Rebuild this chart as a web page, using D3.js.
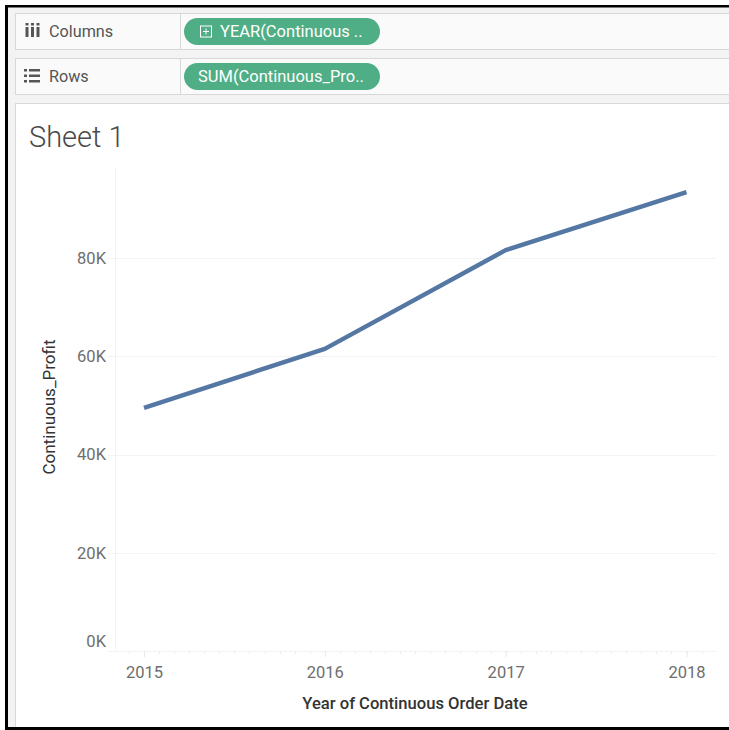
<!DOCTYPE html>
<html><head><meta charset="utf-8">
<script src="https://cdn.jsdelivr.net/npm/d3@7/dist/d3.min.js"></script>
<style>html,body{margin:0;padding:0;background:#fff}svg{display:block}text{font-family:Roboto,"Open Sans",sans-serif}</style>
</head><body><svg id="c" width="729" height="730"></svg>
<script>
const years=[2015,2016,2017,2018];
const profit=[49500,61500,81600,93400];
const yTicks=[0,20000,40000,60000,80000];
const shelves=["Columns","Rows"];
const pills=["YEAR(Continuous ..","SUM(Continuous_Pro.."];

const svg=d3.select("#c");
const x=d3.scaleLinear().domain([2015,2018]).range([144,686.5]);
const y=d3.scaleLinear().domain([0,80000]).range([651,258]);
const gridC="#f3f3f3", textC="#6e6e6e";

// window
svg.append("rect").attr("width",729).attr("height",730).attr("fill","#fff");
svg.append("rect").attr("x",8).attr("y",7).attr("width",721).attr("height",720).attr("fill","#f3f3f3");
// shelves
const tops=[13.5,58.5];
shelves.forEach((s,i)=>{
  const g=svg.append("g");
  g.append("rect").attr("x",15.5).attr("y",tops[i]).attr("width",720).attr("height",36).attr("fill","#fafafa").attr("stroke","#d8d8d8");
  g.append("line").attr("x1",180.5).attr("x2",180.5).attr("y1",tops[i]).attr("y2",tops[i]+36).attr("stroke","#d8d8d8");
  g.append("text").attr("x",49).attr("y",tops[i]+23.5).attr("font-size",16.2).attr("fill","#555").text(s);
  g.append("rect").attr("x",184).attr("y",tops[i]+4.5).attr("width",196).attr("height",27).attr("rx",13.5).attr("fill","#4fae85");
  g.append("text").attr("x",i?198:220).attr("y",tops[i]+23.5).attr("font-size",16.5).attr("fill","#fff").text(pills[i]);
});
// Columns icon
[0,1,2].forEach(k=>{
  svg.append("rect").attr("x",25.5+k*5.5).attr("y",27).attr("width",3).attr("height",10).attr("fill","#555");
  svg.append("rect").attr("x",25.5+k*5.5).attr("y",23).attr("width",3).attr("height",2.5).attr("fill","#555");
});
// Rows icon
[0,1,2].forEach(k=>{
  svg.append("rect").attr("x",24).attr("y",69+k*5.5).attr("width",3).attr("height",2.5).attr("fill","#555");
  svg.append("rect").attr("x",29).attr("y",69+k*5.5).attr("width",11).attr("height",2.5).attr("fill","#555");
});
// plus icon
svg.append("rect").attr("x",200.5).attr("y",26).attr("width",11).attr("height",11).attr("fill","none").attr("stroke","#fff");
svg.append("path").attr("d","M203 31.5h6M206 28.5v6").attr("stroke","#fff").attr("fill","none");

// panel
svg.append("rect").attr("x",15.5).attr("y",103.5).attr("width",720).attr("height",624).attr("fill","#fff").attr("stroke","#d8d8d8");
svg.append("text").attr("x",29).attr("y",147).attr("font-size",29).attr("font-weight",300).attr("fill","#4a4a4a").text("Sheet 1");

// grid
svg.append("line").attr("x1",115.5).attr("x2",115.5).attr("y1",168).attr("y2",651).attr("stroke",gridC);
svg.append("g").selectAll("line").data(yTicks).join("line")
  .attr("x1",108).attr("x2",716).attr("y1",d=>Math.round(y(d))+.5).attr("y2",d=>Math.round(y(d))+.5)
  .attr("stroke",gridC);

// minor month ticks through the x scale
const months=d3.range(-1,39).map(m=>2015+m/12).filter(v=>x(v)<716);
svg.append("g").selectAll("line").data(months).join("line")
  .attr("x1",d=>Math.round(x(d))+.5).attr("x2",d=>Math.round(x(d))+.5).attr("y1",651).attr("y2",654).attr("stroke","#ececec");

// axes via d3
const ax=svg.append("g").attr("transform","translate(0,651)")
  .call(d3.axisBottom(x).tickValues(years).tickFormat(d3.format("d")).tickSize(6).tickPadding(9));
ax.select(".domain").remove();
ax.selectAll("line").attr("stroke","#e8e8e8");
ax.selectAll("text").attr("font-size",16.5).attr("fill",textC);

const ay=svg.append("g").attr("transform","translate(115,0)")
  .call(d3.axisLeft(y).tickValues(yTicks).tickFormat(d=>d/1000+"K").tickSize(0).tickPadding(9));
ay.select(".domain").remove();
ay.selectAll("text").attr("font-size",16.5).attr("fill",textC).attr("dy",d=>d===0?"-0.3em":"0.32em");

// axis titles
svg.append("text").attr("x",415).attr("y",709).attr("text-anchor","middle").attr("font-size",16.6).attr("font-weight",500).attr("fill","#333").text("Year of Continuous Order Date");
svg.append("text").attr("transform","translate(55,407) rotate(-90)").attr("text-anchor","middle").attr("font-size",17).attr("fill","#333").text("Continuous_Profit");

// line
const line=d3.line().x((d,i)=>x(years[i])).y(d=>y(d));
svg.append("path").attr("d",line(profit)).attr("fill","none").attr("stroke","#5577a3").attr("stroke-width",4.5).attr("stroke-linejoin","round");

// black frame
svg.append("rect").attr("x",0).attr("y",0).attr("width",729).attr("height",5).attr("fill","#fff");
svg.append("rect").attr("x",5).attr("y",5).attr("width",729).attr("height",2.5).attr("fill","#000");
svg.append("rect").attr("x",5).attr("y",5).attr("width",3).attr("height",725).attr("fill","#000");
svg.append("rect").attr("x",5).attr("y",727).attr("width",724).attr("height",3).attr("fill","#000");
</script></body></html>
